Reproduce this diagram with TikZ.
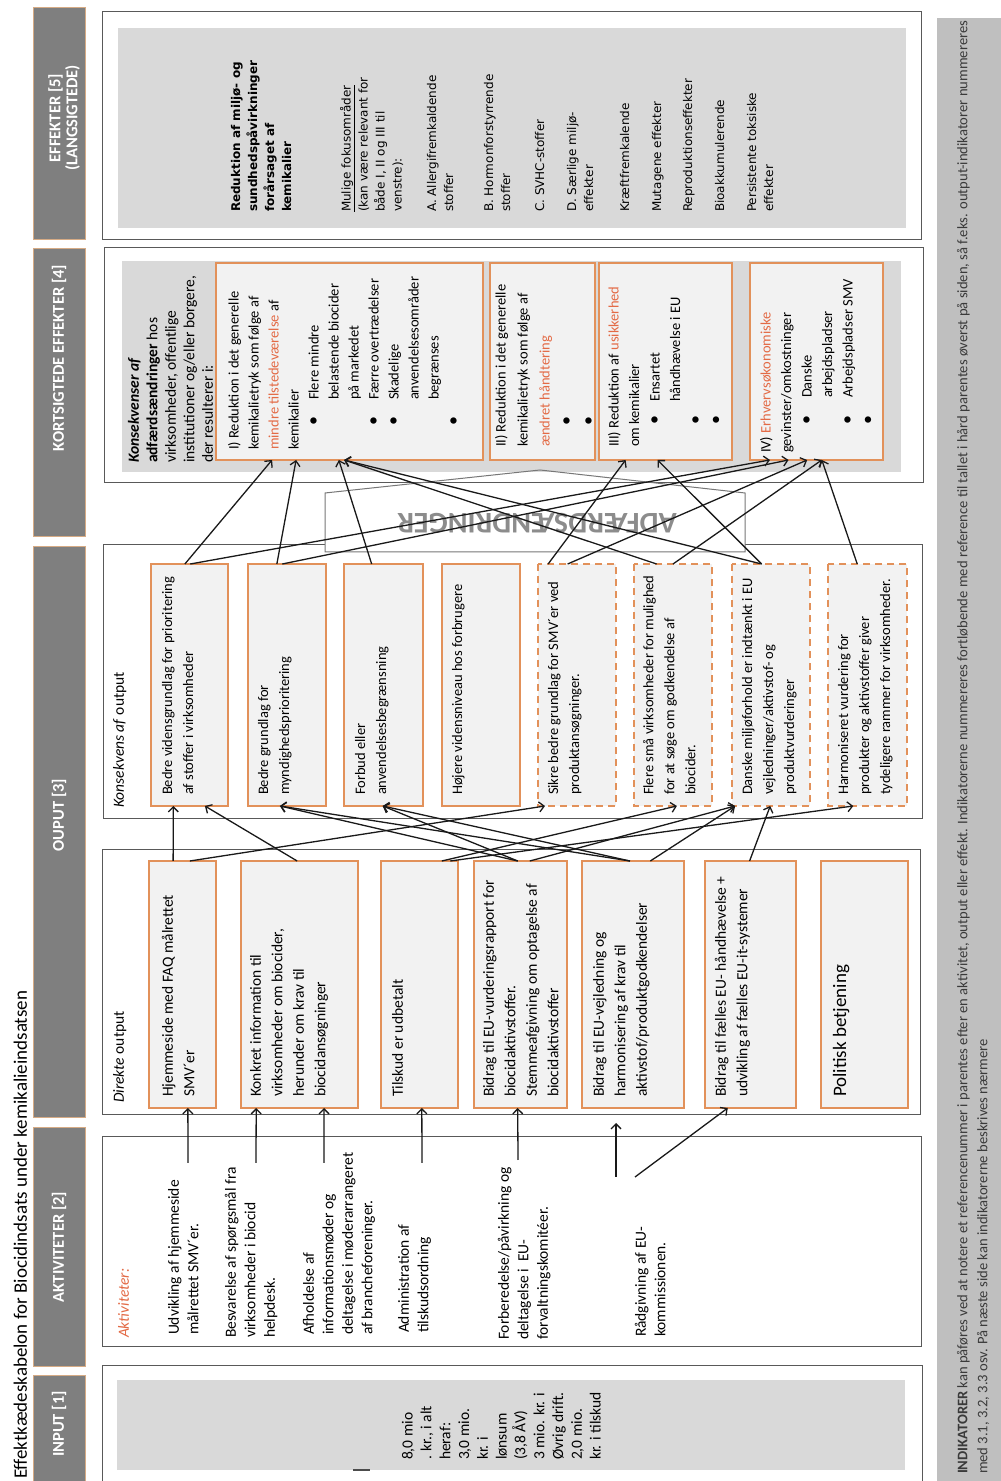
\documentclass[tikz,border=0pt]{standalone}
\usepackage{fontspec}
\setmainfont{Carlito}
\newfontfamily\dvsans{DejaVu Sans}
\usetikzlibrary{arrows.meta,calc}
\definecolor{orangeb}{HTML}{E2915A}
\definecolor{orangetxt}{HTML}{E36A45}
\definecolor{boxfill}{HTML}{F2F2F2}
\definecolor{panelgray}{HTML}{D9D9D9}
\definecolor{hdrgray}{HTML}{7F7F7F}
\definecolor{hdrborder}{HTML}{D6AB85}
\definecolor{framegray}{HTML}{595959}
\definecolor{indgray}{HTML}{BFBFBF}
\definecolor{indtxt}{HTML}{3A3A3A}
\definecolor{adfgray}{HTML}{8C8C8C}
\newcommand\bulx{{\fontsize{18}{18}\selectfont\textbullet}}
\newcommand\conn[4]{\draw[arr] ($(#1.north east)!#2!(#1.south east)$) -- ($(#3.north west)!#4!(#3.south west)$);}
\newcommand\inarr[3]{\draw[arr] (#1) -- ($(#2.north west)!#3!(#2.south west)$);}
\begin{document}
\begin{tikzpicture}[x=1pt,y=1pt,rotate=90,transform shape]
\tikzset{
 hdr/.style={fill=hdrgray, draw=hdrborder, line width=1pt},
 hdrtxt/.style={text=white, font=\bfseries\fontsize{16.5}{17}\selectfont, align=center, inner sep=0pt},
 frame/.style={draw=framegray, line width=1pt},
 obox/.style={draw=orangeb, line width=1.8pt, fill=boxfill, inner sep=0pt, outer sep=0pt},
 dbox/.style={obox, dash pattern=on 7pt off 5pt},
 txt/.style={anchor=north west, inner sep=0pt, outer sep=0pt, align=left},
 dtxt/.style={txt, font=\fontsize{15.5}{21.5}\selectfont},
 ktxt/.style={txt, font=\fontsize{14.5}{21}\selectfont},
 etxt/.style={txt, font=\dvsans\fontsize{12}{17}\selectfont},
 arr/.style={line width=1.3pt, draw=black!90, -{Straight Barb[length=5pt,width=10pt]}},
}
\fill[white] (0,-1001) rectangle (1481,0);
\useasboundingbox (0,-1001) rectangle (1481,0);

% title
\node[anchor=base west, inner sep=0pt, font=\fontsize{19}{23}\selectfont] (title) at (2,-27) {Effektkædeskabelon for Biocidindsats under kemikalieindsatsen};

% header bars
\draw[hdr] (-10,-85) rectangle (105,-33);
\draw[hdr] (114,-85) rectangle (353,-33);
\draw[hdr] (363,-85) rectangle (934,-33);
\draw[hdr] (944,-85) rectangle (1232,-33);
\draw[hdr] (1241,-85) rectangle (1473,-33);
\node[hdrtxt] (h1) at (57,-59) {INPUT [1]};
\node[hdrtxt] (h2) at (234,-59) {AKTIVITETER [2]};
\node[hdrtxt] (h3) at (666,-59) {OUPUT [3]};
\node[hdrtxt] (h4) at (1123,-59) {KORTSIGTEDE EFFEKTER [4]};
\node[hdrtxt] (h5) at (1363,-64) {EFFEKTER [5]\\(LANGSIGTEDE)};

% frames and panels
\draw[frame] (-10,-922) rectangle (115,-102);
\fill[panelgray] (11,-905) rectangle (101,-117);
\draw[frame] (134,-921) rectangle (344,-102);
\draw[frame] (366,-920) rectangle (631,-102);
\draw[frame] (662,-922) rectangle (936,-103);
\draw[frame] (998,-923) rectangle (1233,-104);
\fill[panelgray] (1009,-901) rectangle (1220,-122);
\draw[frame] (1241,-921) rectangle (1469,-102);
\fill[panelgray] (1253,-906) rectangle (1453,-118);

% indicator band
\fill[indgray] (0,-1001) rectangle (1463,-937);
\node[txt, text=indtxt, font=\fontsize{14.6}{20}\selectfont] (ind) at (7,-957) {\textbf{INDIKATORER} kan påføres ved at notere et referencenummer i parentes efter en aktivitet, output eller effekt. Indikatorerne nummereres fortløbende med reference til tallet i hård parentes øverst på siden, så f.eks. output-indikatorer nummereres\\med 3.1, 3.2, 3.3 osv. På næste side kan indikatorerne beskrives nærmere};

% INPUT
\node[txt, font=\fontsize{15.5}{18.8}\selectfont] (inp) at (21,-402) {8,0 mio\\. kr., i alt\\heraf:\\3,0 mio.\\kr. i\\lønsum\\(3,8 ÅV)\\3 mio. kr. i\\Øvrig drift.\\2,0 mio.\\kr. i tilskud};
\draw[line width=2pt, draw=black!70] (11,-353) -- (11,-370);

% AKTIVITETER
\node[txt, font=\itshape\fontsize{15.5}{19.5}\selectfont, text=orangetxt] (aklab) at (143,-118) {Aktiviteter:};
\node[txt, font=\fontsize{15.5}{19.5}\selectfont] (at1) at (146,-168) {Udvikling af hjemmeside\\målrettet SMV´er.};
\node[txt, font=\fontsize{15.5}{19.5}\selectfont] (at2) at (143,-225) {Besvarelse af spørgsmål fra\\virksomheder i biocid\\helpdesk.};
\node[txt, font=\fontsize{15.5}{19.5}\selectfont] (at3) at (146,-303) {Afholdelse af\\informationsmøder og\\deltagelse i møderarrangeret\\af brancheforeninger.};
\node[txt, font=\fontsize{15.5}{19.5}\selectfont] (at4) at (148,-398) {Administration af\\tilskudsordning};
\node[txt, font=\fontsize{15.5}{19.5}\selectfont] (at5) at (141,-498) {Forberedelse/påvirkning og\\deltagelse i\ \ EU-\\forvaltningskomitéer.};
\node[txt, font=\fontsize{15.5}{19.5}\selectfont] (at6) at (144,-635) {Rådgivning af EU-\\kommissionen.};

% DIREKTE OUTPUT
\node[txt, font=\fontsize{15.5}{19}\selectfont] (dlab) at (378,-113) {\textit{Direkte} output};
\node[obox, minimum width=247pt, minimum height=67pt] (d1) at (496.5,-182.5) {};
\node[obox, minimum width=247pt, minimum height=117pt] (d2) at (496.5,-299.5) {};
\node[obox, minimum width=247pt, minimum height=77pt] (d3) at (496.5,-419.5) {};
\node[obox, minimum width=247pt, minimum height=93pt] (d4) at (496.5,-520.5) {};
\node[obox, minimum width=247pt, minimum height=102pt] (d5) at (496.5,-633) {};
\node[obox, minimum width=247pt, minimum height=91pt] (d6) at (496.5,-750.5) {};
\node[obox, minimum width=247pt, minimum height=87pt] (d7) at (496.5,-864.5) {};
\node[dtxt] (dt1) at (384,-162) {Hjemmeside med FAQ målrettet\\SMV´er};
\node[dtxt] (dt2) at (384,-250) {Konkret information til\\virksomheder om biocider,\\herunder om krav til\\biocidansøgninger};
\node[dtxt] (dt3) at (384,-392) {Tilskud er udbetalt};
\node[dtxt] (dt4) at (384,-483) {Bidrag til EU-vurderingsrapport for\\biocidaktivstoffer.\\Stemmeafgivning om optagelse af\\biocidaktivstoffer};
\node[dtxt] (dt5) at (384,-593) {Bidrag til EU-vejledning og\\harmonisering af krav til\\aktivstof/produktgodkendelser};
\node[dtxt] (dt6) at (384,-715) {Bidrag til fælles EU- håndhævelse +\\udvikling af fælles EU-it-systemer};
\node[txt, font=\fontsize{19}{23}\selectfont] (dt7) at (384,-833) {Politisk betjening};

% KONSEKVENS AF OUTPUT
\node[txt, font=\fontsize{15.5}{19}\selectfont] (klab) at (673,-113) {\textit{Konsekvens af} output};
\node[obox, minimum width=242pt, minimum height=77pt] (k1) at (796,-189.5) {};
\node[obox, minimum width=242pt, minimum height=78pt] (k2) at (796,-287) {};
\node[obox, minimum width=242pt, minimum height=79pt] (k3) at (796,-383.5) {};
\node[obox, minimum width=242pt, minimum height=78pt] (k4) at (796,-481) {};
\node[dbox, minimum width=242pt, minimum height=78pt] (k5) at (796,-577) {};
\node[dbox, minimum width=242pt, minimum height=78pt] (k6) at (796,-673) {};
\node[dbox, minimum width=242pt, minimum height=78pt] (k7) at (796,-771) {};
\node[dbox, minimum width=242pt, minimum height=79pt] (k8) at (796,-867.5) {};
\node[ktxt] (kt1) at (686,-162) {Bedre vidensgrundlag for prioritering\\af stoffer i virksomheder};
\node[ktxt] (kt2) at (686,-258) {Bedre grundlag for\\myndighedsprioritering};
\node[ktxt] (kt3) at (686,-355) {Forbud eller\\anvendelsesbegrænsning};
\node[ktxt] (kt4) at (686,-452) {Højere vidensniveau hos forbrugere};
\node[ktxt] (kt5) at (686,-548) {Sikre bedre grundlag for SMV´er ved\\produktansøgninger.};
\node[ktxt] (kt6) at (686,-643) {Flere små virksomheder for mulighed\\for at søge om godkendelse af\\biocider.};
\node[ktxt] (kt7) at (686,-742) {Danske miljøforhold er indtænkt i EU\\vejledninger/aktivstof- og\\produktvurderinger};
\node[ktxt] (kt8) at (686,-838) {Harmoniseret vurdering for\\produkter og aktivstoffer giver\\tydeligere rammer for virksomheder.};

% KORTSIGTEDE EFFEKTER
\node[txt, font=\fontsize{15.5}{18.5}\selectfont] (intro) at (1018,-128) {\textbf{\textit{Konsekvenser af}}\\\textbf{adfærdsændringer} hos\\virksomheder, offentlige\\institutioner og/eller borgere,\\der resulterer i:};
\node[obox, minimum width=197pt, minimum height=267pt] (kI) at (1119.5,-349.5) {};
\node[obox, minimum width=197pt, minimum height=105pt] (kII) at (1119.5,-542.5) {};
\node[obox, minimum width=197pt, minimum height=133pt] (kIII) at (1119.5,-665.5) {};
\node[obox, minimum width=197pt, minimum height=133pt] (kIV) at (1119.5,-816.5) {};
\node[txt, font=\fontsize{14.5}{20}\selectfont] (tI) at (1031,-228) {I) Reduktion i det generelle\\kemikalietryk som følge af\\\textcolor{orangetxt}{mindre tilstedeværelse} af\\kemikalier\\\hspace*{24pt}\makebox[26pt][l]{\bulx}Flere mindre\\\hspace*{50pt}belastende biocider\\\hspace*{50pt}på markedet\\\hspace*{24pt}\makebox[26pt][l]{\bulx}Færre overtrædelser\\\hspace*{24pt}\makebox[26pt][l]{\bulx}Skadelige\\\hspace*{50pt}anvendelsesområder\\\hspace*{50pt}begrænses\\\hspace*{24pt}\bulx};
\node[txt, font=\fontsize{14.5}{22}\selectfont] (tII) at (1034,-495) {II) Reduktion i det generelle\\kemikalietryk som følge af\\\textcolor{orangetxt}{ændret håndtering}\\\hspace*{21pt}\bulx\\\hspace*{21pt}\bulx};
\node[txt, font=\fontsize{14.5}{20.5}\selectfont] (tIII) at (1034,-608) {III) Reduktion af \textcolor{orangetxt}{usikkerhed}\\om kemikalier\\\hspace*{22pt}\makebox[23pt][l]{\bulx}Ensartet\\\hspace*{45pt}håndhævelse i EU\\\hspace*{22pt}\bulx\\\hspace*{22pt}\bulx};
\node[txt, font=\fontsize{14.5}{20.5}\selectfont] (tIV) at (1028,-760) {IV) \textcolor{orangetxt}{Erhvervsøkonomiske}\\gevinster/omkostninger\\\hspace*{28pt}\makebox[27pt][l]{\bulx}Danske\\\hspace*{55pt}arbejdspladser\\\hspace*{28pt}\makebox[27pt][l]{\bulx}Arbejdspladser SMV\\\hspace*{28pt}\bulx};

% EFFEKTER (LANGSIGTEDE)
\node[etxt, font=\dvsans\bfseries\fontsize{12}{17}\selectfont] (e1) at (1269,-231) {Reduktion af miljø- og\\sundhedspåvirkninger\\forårsaget af\\kemikalier};
\node[etxt] (e2) at (1269,-340) {\underline{Mulige fokusområder}\\(kan være relevant for\\både I, II og III til\\venstre):};
\node[etxt] (e3) at (1269,-427) {A. Allergifremkaldende\\stoffer};
\node[etxt] (e4) at (1269,-484) {B. Hormonforstyrrende\\stoffer};
\node[etxt] (e5) at (1269,-535) {C. SVHC-stoffer};
\node[etxt] (e6) at (1269,-567) {D. Særlige miljø-\\effekter};
\node[etxt] (e7) at (1269,-620) {Kræftfremkalende};
\node[etxt] (e8) at (1269,-652) {Mutagene effekter};
\node[etxt] (e9) at (1269,-683) {Reproduktionseffekter};
\node[etxt] (e10) at (1269,-715) {Bioakkumulerende};
\node[etxt] (e11) at (1269,-747) {Persistente toksiske\\effekter};

% ADFAERDSAENDRINGER banner
\fill[white] (929,-745) rectangle (988,-325);
\draw[draw=adfgray!85!black, line width=1pt] (929,-325) -- (988,-325) -- (1011,-540) -- (988,-745) -- (929,-745) -- cycle;
\node[rotate=90, inner sep=0pt, font=\bfseries\fontsize{30}{30}\selectfont, text=adfgray] (adf) at (958,-537) {ADFÆRDSÆNDRINGER};

% arrows: aktiviteter -> direkte output
\coordinate (s1) at (318,-188);
\coordinate (s2) at (318,-256);
\coordinate (s3) at (318,-324);
\coordinate (s4) at (318,-422);
\coordinate (s5) at (321,-518);
\coordinate (s6) at (304,-616);
\coordinate (e6) at (358,-616);
\coordinate (s7) at (304,-635);
\inarr{s1}{d1}{0.58}
\inarr{s2}{d2}{0.13}
\inarr{s3}{d2}{0.71}
\inarr{s4}{d3}{0.53}
\inarr{s5}{d4}{0.47}
\draw[arr] (s6) -- (e6);
\inarr{s7}{d6}{0.25}

% arrows: direkte output -> konsekvens
\conn{d1}{0.36}{k1}{0.29}
\conn{d1}{0.61}{k5}{0.09}
\conn{d2}{0.48}{k1}{0.70}
\conn{d3}{0.79}{k6}{0.55}
\conn{d3}{0.90}{k8}{0.32}
\conn{d4}{0.47}{k2}{0.41}
\conn{d4}{0.47}{k3}{0.49}
\conn{d4}{0.60}{k7}{0.04}
\conn{d5}{0.47}{k2}{0.41}
\conn{d5}{0.47}{k3}{0.49}
\conn{d5}{0.67}{k7}{0.04}
\conn{d6}{0.49}{k7}{0.49}

% arrows: konsekvens -> kortsigtede effekter
\conn{k1}{0.44}{kI}{0.21}
\conn{k1}{0.51}{kIV}{0.15}
\conn{k2}{0.37}{kI}{0.30}
\conn{k2}{0.44}{kIV}{0.29}
\conn{k3}{0.35}{kI}{0.46}
\conn{k5}{0.13}{kIII}{0.20}
\conn{k5}{0.38}{kIV}{0.43}
\conn{k6}{0.29}{kI}{0.48}
\conn{k6}{0.50}{kIV}{0.54}
\conn{k7}{0.38}{kI}{0.48}
\conn{k7}{0.38}{kIII}{0.44}
\conn{k8}{0.37}{kIV}{0.54}
\end{tikzpicture}
\end{document}
